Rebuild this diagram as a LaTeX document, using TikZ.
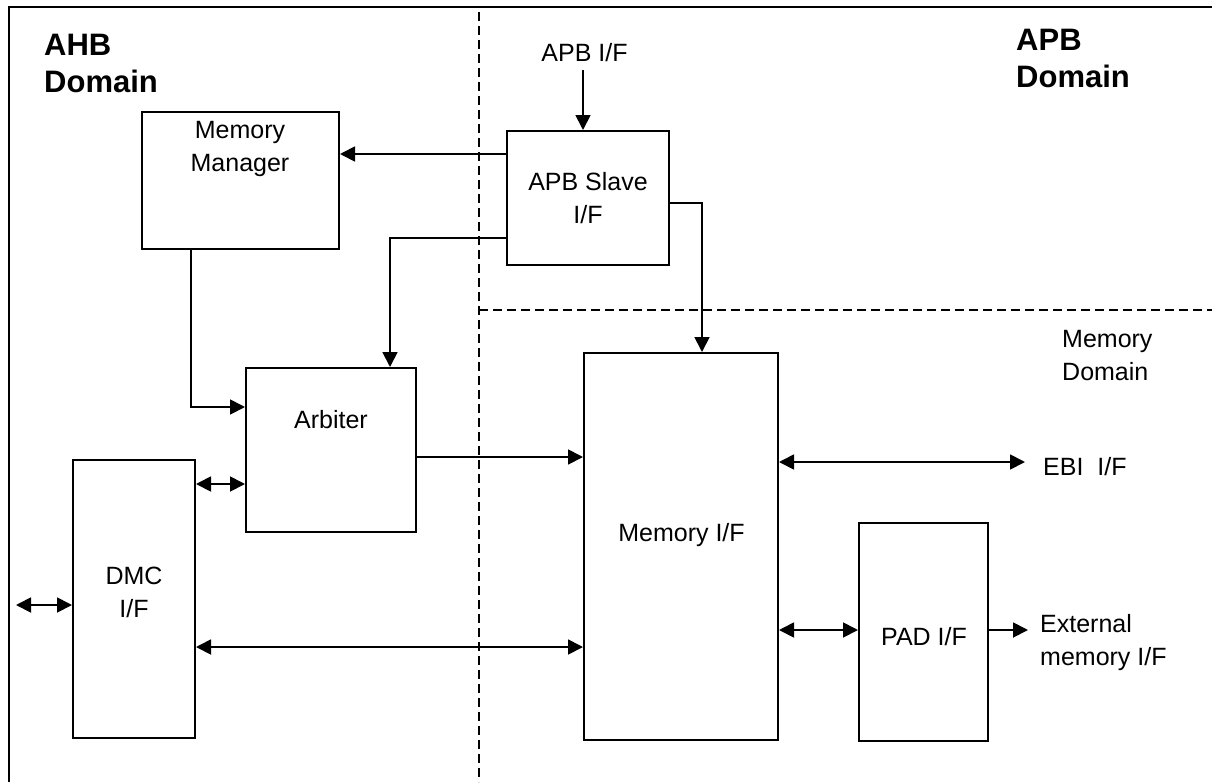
\documentclass[tikz,border=0pt]{standalone}
\usepackage{fontspec}
\setmainfont{Liberation Sans}
\usetikzlibrary{arrows.meta}
\tikzset{
  box/.style={draw, line width=2pt, inner sep=0pt, rectangle},
  txt/.style={inner sep=0pt, align=center, font=\fontsize{25}{33}\selectfont},
  txtl/.style={inner sep=0pt, align=left, anchor=west, font=\fontsize{25}{33}\selectfont},
  dom/.style={inner sep=0pt, align=left, anchor=west, font=\fontsize{31}{37}\selectfont\bfseries},
  conn/.style={line width=1.8pt, -{Triangle[length=15pt,width=15pt]}},
  dconn/.style={line width=1.8pt, {Triangle[length=15pt,width=15pt]}-{Triangle[length=15pt,width=15pt]}},
  divider/.style={line width=1.4pt, dash pattern=on 9pt off 5pt},
  frame/.style={line width=2.6pt}
}
\begin{document}
\begin{tikzpicture}[x=1pt,y=-1pt]
\useasboundingbox (0,0) rectangle (1212,782);
% frame (top and left)
\coordinate (fbl) at (9,782);
\coordinate (ftl) at (9,7);
\coordinate (ftr) at (1212,7);
\draw[frame] (fbl) -- (ftl) -- (ftr);
% domain dividers
\coordinate (vtop) at (479,12);
\coordinate (vbot) at (479,782);
\coordinate (hright) at (1212,310);
\coordinate (hleft) at (479,310);
\draw[divider] (vtop) -- (vbot);
\draw[divider] (hleft) -- (hright);
% domain labels
\node[dom] (ahb) at (44,63) {AHB\\Domain};
\node[dom] (apbd) at (1016,58) {APB\\Domain};
\node[txtl] (memd) at (1062,356) {Memory\\Domain};
% boxes
\node[box, minimum width=197pt, minimum height=137pt] (mm) at (240.5,180.5) {};
\node[box, minimum width=162pt, minimum height=134pt] (slave) at (588,198) {};
\node[box, minimum width=170pt, minimum height=164pt] (arb) at (331,450) {};
\node[box, minimum width=122pt, minimum height=278pt] (dmc) at (134,599) {};
\node[box, minimum width=194pt, minimum height=387pt] (memif) at (681,546.5) {};
\node[box, minimum width=129pt, minimum height=218pt] (pad) at (923.5,632) {};
% box texts
\node[txt] (mmt) at (240,149) {Memory\\Manager};
\node[txt] (slavet) at (588,198) {APB Slave\\I/F};
\node[txt] (arbt) at (331,420) {Arbiter};
\node[txt] (dmct) at (134,592) {DMC\\I/F};
\node[txt] (memift) at (681.5,535) {Memory I/F};
\node[txt] (padt) at (924,637) {PAD I/F};
% external labels
\node[txt] (apbif) at (584.5,53) {APB I/F};
\node[txtl] (ebi) at (1043,467) {EBI\ \ I/F};
\node[txtl] (ext) at (1040,643) {External\\memory I/F};
% helper coordinates
\coordinate (y154) at (0,154);
\coordinate (y238) at (0,238);
\coordinate (y203) at (0,203);
\coordinate (y407) at (0,407);
\coordinate (y457) at (0,457);
\coordinate (y484) at (0,484);
\coordinate (y605) at (0,605);
\coordinate (y647) at (0,647);
\coordinate (y462) at (0,462);
\coordinate (y630) at (0,630);
\coordinate (x583) at (583,0);
\coordinate (x390) at (390,0);
\coordinate (x702) at (702,0);
\coordinate (x191) at (191,0);
\coordinate (apbtop) at (583,70);
\coordinate (leftend) at (16,605);
\coordinate (ebiend) at (1025,462);
\coordinate (extend) at (1028,630);
% connectors
\draw[conn] (apbtop) -- (x583 |- slave.north);
\draw[conn] (slave.west |- y154) -- (mm.east |- y154);
\draw[conn] (slave.west |- y238) -| (x390 |- arb.north);
\draw[conn] (slave.east |- y203) -| (x702 |- memif.north);
\draw[conn] (x191 |- mm.south) |- (arb.west |- y407);
\draw[conn] (arb.east |- y457) -- (memif.west |- y457);
\draw[dconn] (dmc.east |- y484) -- (arb.west |- y484);
\draw[dconn] (leftend) -- (dmc.west |- y605);
\draw[dconn] (dmc.east |- y647) -- (memif.west |- y647);
\draw[dconn] (memif.east |- y462) -- (ebiend);
\draw[dconn] (memif.east |- y630) -- (pad.west |- y630);
\draw[conn] (pad.east |- y630) -- (extend);
\end{tikzpicture}
\end{document}
